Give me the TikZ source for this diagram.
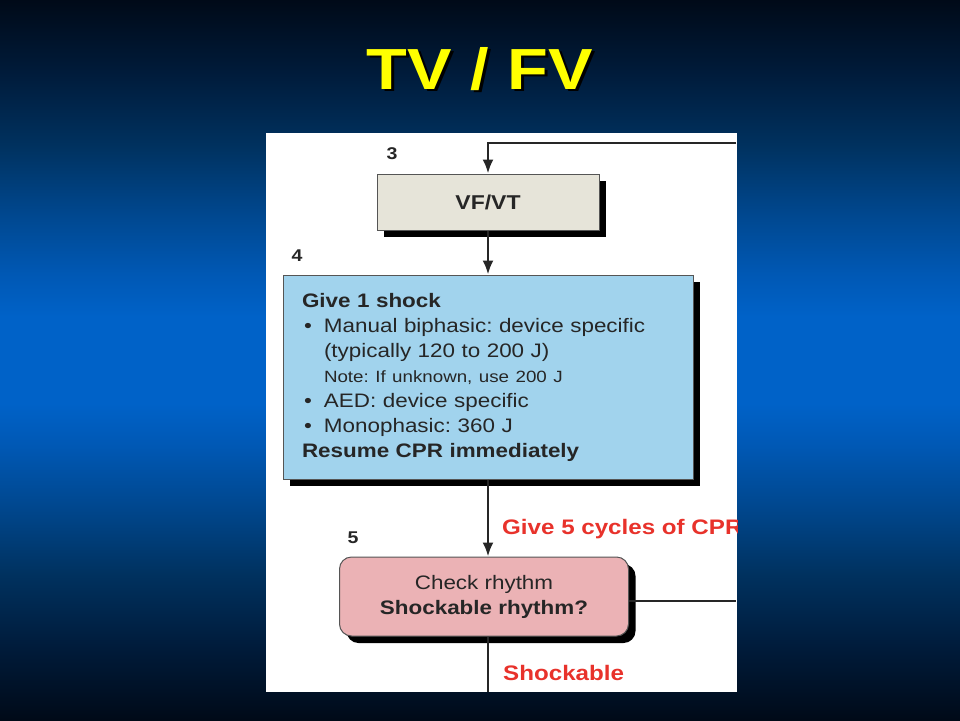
\documentclass[tikz,border=0pt]{standalone}
\usepackage{fontspec}
\setmainfont{Liberation Sans}[FakeStretch=1.15]
\usetikzlibrary{shadows,arrows.meta}
\definecolor{bgdark}{HTML}{000A18}
\definecolor{bgc1}{HTML}{001B3A}
\definecolor{bgc2}{HTML}{00315E}
\definecolor{bgc3}{HTML}{004890}
\definecolor{bgc4}{HTML}{0058B4}
\definecolor{bgmid}{HTML}{0062C8}
\definecolor{titleyellow}{HTML}{FFFF00}
\definecolor{vfcol}{HTML}{E6E4D9}
\definecolor{shockcol}{HTML}{A1D3ED}
\definecolor{checkcol}{HTML}{EBB2B5}
\definecolor{bordercol}{HTML}{555555}
\definecolor{linecol}{HTML}{262626}
\definecolor{textcol}{HTML}{262626}
\definecolor{redcol}{HTML}{E8322B}
\pgfdeclareverticalshading{bgshade}{100bp}{color(0bp)=(bgdark); color(25bp)=(bgdark); color(30bp)=(bgc1); color(35bp)=(bgc2); color(40bp)=(bgc3); color(44bp)=(bgc4); color(47bp)=(bgmid); color(53bp)=(bgmid); color(56bp)=(bgc4); color(60bp)=(bgc3); color(65bp)=(bgc2); color(70bp)=(bgc1); color(75bp)=(bgdark); color(100bp)=(bgdark)}
\tikzset{
  box/.style={draw=bordercol, line width=1pt, text=textcol, inner sep=0pt,
    drop shadow={shadow xshift=7pt, shadow yshift=-7pt, fill=black, opacity=1}},
  conn/.style={draw=linecol, line width=2.4pt},
  arr/.style={conn, -{Latex[length=14pt,width=11pt]}},
  numlab/.style={font=\bfseries\fontsize{17}{20}\selectfont, text=textcol, inner sep=0pt},
  redlab/.style={font=\bfseries\fontsize{21}{24}\selectfont, text=redcol, inner sep=0pt},
  titlefont/.style={font=\bfseries\fontsize{58}{60}\selectfont, inner sep=0pt}
}
\frenchspacing
\begin{document}
\begin{tikzpicture}[x=1pt,y=-1pt]
\useasboundingbox (0,0) rectangle (960,720);
\begin{scope}[y=1pt]
\shade[shading=bgshade] (0,0) rectangle (960,-720);
\end{scope}

% title (with its black drop shadow)
\node[titlefont, text=titleyellow, anchor=base] (title) at (480,89)
  {\rlap{\hspace*{2.5pt}\raisebox{-2.5pt}{\color{black}TV / FV}}TV / FV};

% white panel
\node[fill=white, inner sep=0pt, minimum width=471pt, minimum height=559pt, anchor=north west] (panel) at (266,133) {};

% step numbers
\node[numlab, anchor=base] (n3) at (392,159) {3};
\node[numlab, anchor=base] (n4) at (297,261) {4};
\node[numlab, anchor=base] (n5) at (353,543) {5};

% boxes
\node[box, fill=vfcol, minimum width=222pt, minimum height=56pt,
  font=\bfseries\fontsize{20}{24}\selectfont] (vfvt) at (488,202) {VF/VT};

\node[box, fill=shockcol, minimum width=410pt, minimum height=204pt,
  inner xsep=19pt, text width=372pt, align=left,
  font=\fontsize{19.5}{25}\selectfont] (shock) at (488,377) {%
\textbf{Give 1 shock}\\
\makebox[22pt][l]{\hspace*{2pt}\textbullet}Manual biphasic: device specific\\
\hspace*{22pt}(typically 120 to 200 J)\\
\hspace*{22pt}{\fontsize{16.3}{25}\selectfont Note: If unknown, use 200 J}\\
\makebox[22pt][l]{\hspace*{2pt}\textbullet}AED: device specific\\
\makebox[22pt][l]{\hspace*{2pt}\textbullet}Monophasic: 360 J\\
\textbf{Resume CPR immediately}};

\node[box, rounded corners=12pt, fill=checkcol, minimum width=289pt, minimum height=79pt,
  align=center, font=\fontsize{19.5}{25}\selectfont] (check) at (484,596.5)
  {Check rhythm\\\textbf{Shockable rhythm?}};

% connector end points at the panel edge
\coordinate (loopR) at (736,143);
\coordinate (rightR) at (736,601);
\coordinate (botEnd) at (488,692);

% connectors
\draw[arr] (loopR) -| (vfvt.north);
\draw[arr] (vfvt.south) -- (shock.north);
\draw[arr] (shock.south) -- (shock.south |- check.north);
\draw[conn] (check.east |- rightR) -- (rightR);
\draw[conn] (check.south -| botEnd) -- (botEnd);

% red labels
\begin{scope}
\clip (266,133) rectangle (737,692);
\node[redlab, anchor=base west] (give5) at (502,534) {Give 5 cycles of CPR};
\node[redlab, anchor=base west] (shockable) at (503,680) {Shockable};
\end{scope}
\end{tikzpicture}
\end{document}
